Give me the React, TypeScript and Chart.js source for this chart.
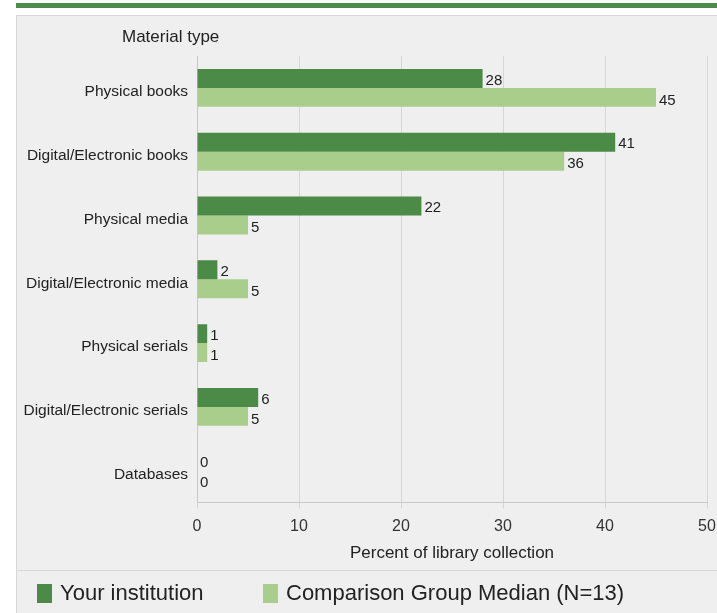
import React, { useEffect, useRef } from "react";
import { Chart, registerables } from "chart.js";

Chart.register(...registerables);

const categories = [
  "Physical books",
  "Digital/Electronic books",
  "Physical media",
  "Digital/Electronic media",
  "Physical serials",
  "Digital/Electronic serials",
  "Databases",
];
const yourInstitution = [28, 41, 22, 2, 1, 6, 0];
const comparisonMedian = [45, 36, 5, 5, 1, 5, 0];
const seriesNames = ["Your institution", "Comparison Group Median (N=13)"];
const xTicks = [0, 10, 20, 30, 40, 50];

const FONT = "'Liberation Sans', Arial, sans-serif";
const DARK = "#4b8a47";
const LIGHT = "#a9ce8b";

const framePlugin = {
  id: "frame",
  beforeDraw(chart: any) {
    const ctx = chart.ctx;
    const w = chart.width;
    const h = chart.height;
    ctx.save();
    ctx.fillStyle = "#ffffff";
    ctx.fillRect(0, 0, w, h);
    ctx.fillStyle = "#4e8a4a";
    ctx.fillRect(16, 3, w - 16, 5);
    ctx.fillStyle = "#efefef";
    ctx.fillRect(16, 15, w - 16, h - 15);
    ctx.strokeStyle = "#d9d9d9";
    ctx.lineWidth = 1;
    ctx.beginPath();
    ctx.moveTo(16.5, 15);
    ctx.lineTo(16.5, h);
    ctx.moveTo(16, 15.5);
    ctx.lineTo(w, 15.5);
    ctx.moveTo(16, 570.5);
    ctx.lineTo(w, 570.5);
    ctx.stroke();
    ctx.fillStyle = "#222222";
    ctx.font = `17px ${FONT}`;
    ctx.textBaseline = "middle";
    ctx.textAlign = "left";
    ctx.fillText("Material type", 122, 37);
    ctx.restore();
  },
  afterDatasetsDraw(chart: any) {
    const ctx = chart.ctx;
    ctx.save();
    ctx.fillStyle = "#222222";
    ctx.font = `15px ${FONT}`;
    ctx.textAlign = "left";
    ctx.textBaseline = "middle";
    chart.data.datasets.forEach((ds: any, di: number) => {
      const meta = chart.getDatasetMeta(di);
      meta.data.forEach((bar: any, i: number) => {
        const v = ds.data[i];
        ctx.fillText(String(v), bar.x + 3, bar.y + (di === 0 ? 2 : 3));
      });
    });
    ctx.restore();
  },
  afterDraw(chart: any) {
    const ctx = chart.ctx;
    ctx.save();
    ctx.font = `22px ${FONT}`;
    ctx.textAlign = "left";
    ctx.textBaseline = "middle";
    const items = [
      { x: 37, color: DARK, text: seriesNames[0] },
      { x: 263, color: LIGHT, text: seriesNames[1] },
    ];
    items.forEach((it) => {
      ctx.fillStyle = it.color;
      ctx.fillRect(it.x, 584, 15, 19);
      ctx.fillStyle = "#222222";
      ctx.fillText(it.text, it.x + 23, 594);
    });
    ctx.restore();
  },
};

export default function App() {
  const ref = useRef<HTMLCanvasElement | null>(null);
  useEffect(() => {
    if (!ref.current) return;
    const chart = new Chart(ref.current, {
      type: "bar",
      data: {
        labels: categories,
        datasets: [
          {
            label: seriesNames[0],
            data: yourInstitution,
            backgroundColor: DARK,
            borderWidth: 0,
            barPercentage: 1,
            categoryPercentage: 0.594,
          },
          {
            label: seriesNames[1],
            data: comparisonMedian,
            backgroundColor: LIGHT,
            borderWidth: 0,
            barPercentage: 1,
            categoryPercentage: 0.594,
          },
        ],
      },
      options: {
        indexAxis: "y",
        animation: false,
        responsive: false,
        devicePixelRatio: 1,
        layout: { padding: { top: 56, right: 10, left: 0, bottom: 51 } },
        scales: {
          x: {
            min: 0,
            max: 50,
            afterBuildTicks(scale: any) {
              scale.ticks = xTicks.map((v) => ({ value: v }));
            },
            afterFit(scale: any) {
              scale.paddingLeft = 0;
              scale.paddingRight = 0;
            },
            grid: { color: "#d6d6d6", drawTicks: true, tickLength: 6 },
            border: { color: "#c8c8c8" },
            ticks: {
              color: "#333333",
              font: { family: FONT, size: 16, lineHeight: 0.9 },
              padding: 11,
            },
            title: {
              display: true,
              text: "Percent of library collection",
              color: "#222222",
              font: { family: FONT, size: 17, lineHeight: 1 },
              padding: { top: 0, bottom: 0 },
            },
          },
          y: {
            afterFit(scale: any) {
              scale.width = 197;
            },
            grid: { display: false, drawTicks: false, tickLength: 0 },
            border: { color: "#c8c8c8" },
            ticks: {
              color: "#222222",
              font: { family: FONT, size: 15.5 },
              padding: 9,
              labelOffset: 4,
            },
          },
        },
        plugins: {
          legend: { display: false },
          tooltip: { enabled: false },
          title: { display: false },
        },
      },
      plugins: [framePlugin],
    } as any);
    return () => chart.destroy();
  }, []);
  return (
    <div style={{ position: "fixed", left: 0, top: 0, width: 717, height: 613 }}>
      <canvas ref={ref} width={717} height={613} style={{ width: 717, height: 613 }} />
    </div>
  );
}
